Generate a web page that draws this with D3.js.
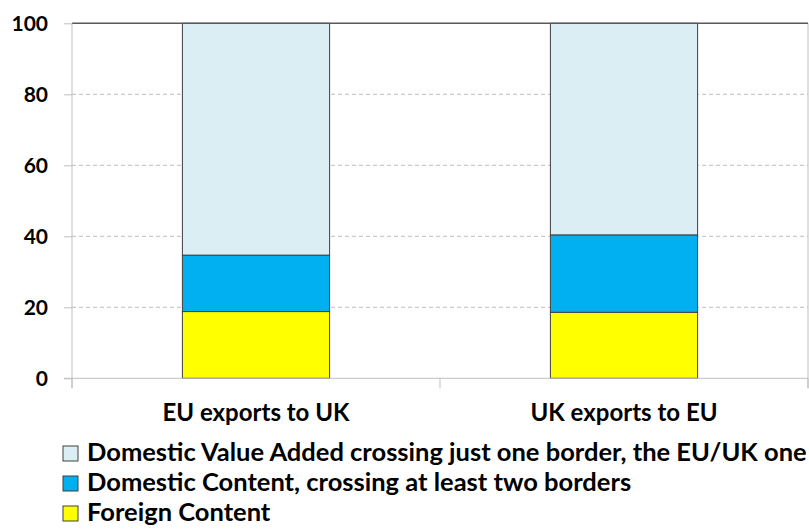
<!DOCTYPE html>
<html>
<head>
<meta charset="utf-8">
<script src="https://cdn.jsdelivr.net/npm/d3@7"></script>
<style>
  body { margin: 0; background: #fff; }
  svg text { font-family: Lato, "Open Sans", sans-serif; fill: #000; }
</style>
</head>
<body>
<svg width="809" height="530"></svg>
<script>
// data
var categories = ["EU exports to UK", "UK exports to EU"];
var foreignContent = [18.8, 18.6];
var domesticContent = [15.9, 21.8];
var domesticVA = [65.3, 59.6];
var yTicks = [0, 20, 40, 60, 80, 100];
var seriesNames = [
    "Domestic Value Added crossing just one border, the EU/UK one",
    "Domestic Content, crossing at least two borders",
    "Foreign Content"
];
var seriesColors = ["#DAEEF3", "#00B0F0", "#FFFF00"];

var svg = d3.select("svg");

var plotLeft = 72, plotRight = 808, plotTop = 23.3, plotBottom = 378.3;

var y = d3.scaleLinear().domain([0, 100]).range([plotBottom, plotTop]);
var x = d3.scaleBand().domain(categories).range([plotLeft, plotRight])
    .paddingInner(0.6).paddingOuter(0.3);

// gridlines
svg.append("g")
    .selectAll("line")
    .data(yTicks.filter(function (d) { return d > 0 && d < 100; }))
    .enter()
    .append("line")
    .attr("x1", plotLeft).attr("x2", plotRight)
    .attr("y1", function (d) { return y(d); })
    .attr("y2", function (d) { return y(d); })
    .attr("stroke", "#bfbfbf")
    .attr("stroke-dasharray", "4,3");

// right border
svg.append("line")
    .attr("x1", plotRight).attr("x2", plotRight)
    .attr("y1", plotTop).attr("y2", plotBottom + 10)
    .attr("stroke", "#bfbfbf");

// stacked bars
var rows = categories.map(function (c, i) {
    return { cat: c, foreign: foreignContent[i], domestic: domesticContent[i], dva: domesticVA[i] };
});
var stack = d3.stack().keys(["foreign", "domestic", "dva"]);
var layers = stack(rows);
var layerColors = [seriesColors[2], seriesColors[1], seriesColors[0]];

svg.append("g")
    .selectAll("g")
    .data(layers)
    .enter()
    .append("g")
    .attr("fill", function (d, i) { return layerColors[i]; })
    .selectAll("rect")
    .data(function (d) { return d; })
    .enter()
    .append("rect")
    .attr("x", function (d) { return x(d.data.cat); })
    .attr("width", x.bandwidth())
    .attr("y", function (d) { return y(d[1]); })
    .attr("height", function (d) { return y(d[0]) - y(d[1]); })
    .attr("stroke", "#404040")
    .attr("stroke-width", 1);

// top line at 100
svg.append("line")
    .attr("x1", plotLeft).attr("x2", plotRight)
    .attr("y1", y(100)).attr("y2", y(100))
    .attr("stroke", "#595959")
    .attr("stroke-width", 1.5);

// y axis
var yAxis = svg.append("g")
    .attr("transform", "translate(" + plotLeft + ",0)")
    .call(d3.axisLeft(y).tickValues(yTicks).tickSize(8).tickPadding(16));
yAxis.select(".domain").attr("stroke", "#bfbfbf").attr("d", "M0," + plotTop + "V" + (plotBottom + 10));
yAxis.selectAll(".tick line").attr("stroke", "#bfbfbf");
yAxis.selectAll("text")
    .attr("font-size", 21)
    .attr("font-weight", "bold")
    .attr("font-family", "Lato, sans-serif")
    .attr("fill", "#000");

// x axis line and ticks at category boundaries
svg.append("line")
    .attr("x1", plotLeft - 8).attr("x2", plotRight)
    .attr("y1", plotBottom).attr("y2", plotBottom)
    .attr("stroke", "#bfbfbf");
var bounds = [plotLeft, (x(categories[0]) + x(categories[1]) + x.bandwidth()) / 2, plotRight];
svg.append("g")
    .selectAll("line")
    .data(bounds)
    .enter()
    .append("line")
    .attr("x1", function (d) { return d; })
    .attr("x2", function (d) { return d; })
    .attr("y1", plotBottom).attr("y2", plotBottom + 10)
    .attr("stroke", "#bfbfbf");

// category labels
svg.append("g")
    .selectAll("text")
    .data(categories)
    .enter()
    .append("text")
    .attr("x", function (d) { return x(d) + x.bandwidth() / 2; })
    .attr("y", 421)
    .attr("text-anchor", "middle")
    .attr("font-size", 24)
    .attr("font-weight", "bold")
    .text(function (d) { return d; });

// legend
var legend = svg.append("g")
    .selectAll("g")
    .data(seriesNames)
    .enter()
    .append("g")
    .attr("transform", function (d, i) { return "translate(63," + (446 + i * 30) + ")"; });
legend.append("rect")
    .attr("width", 15).attr("height", 15)
    .attr("fill", function (d, i) { return seriesColors[i]; })
    .attr("stroke", "#404040");
legend.append("text")
    .attr("x", 24)
    .attr("y", 15)
    .attr("font-size", 25.5)
    .attr("font-weight", "bold")
    .text(function (d) { return d; });
</script>
</body>
</html>
